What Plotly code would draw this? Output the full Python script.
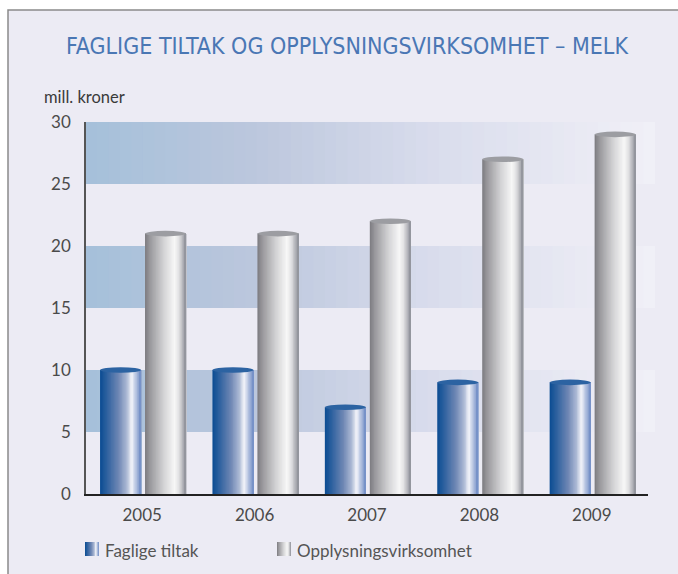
import plotly.graph_objects as go

# ---- data ----
years = ["2005", "2006", "2007", "2008", "2009"]
faglige_tiltak = [10, 10, 7, 9, 9]
opplysningsvirksomhet = [21, 21, 22, 27, 29]
series_names = ["Faglige tiltak", "Opplysningsvirksomhet"]
y_ticks = [0, 5, 10, 15, 20, 25, 30]
title_text = "FAGLIGE TILTAK OG OPPLYSNINGSVIRKSOMHET – MELK"
unit_text = "mill. kroner"

# ---- styling ----
W, H = 678, 574
ML, MR, MT, MB = 86, 30, 122, 80
PW, PH = W - ML - MR, H - MT - MB
BG = "#ECEBF4"
TXT = "#4A4A4A"
FONT = "Lato, 'Noto Sans', sans-serif"


def px2x(px):
    return (px - ML) / PW


def px2y(py):
    return (H - MB - py) / PH


def hex2rgb(h):
    h = h.lstrip("#")
    return tuple(int(h[i:i + 2], 16) for i in (0, 2, 4))


def grad(stops, t):
    for (t0, c0), (t1, c1) in zip(stops[:-1], stops[1:]):
        if t <= t1:
            f = 0 if t1 == t0 else (t - t0) / (t1 - t0)
            a, b = hex2rgb(c0), hex2rgb(c1)
            return "rgb(%d,%d,%d)" % tuple(round(a[k] + (b[k] - a[k]) * f) for k in range(3))
    return "rgb(%d,%d,%d)" % hex2rgb(stops[-1][1])


blue_stops = [(0, "#0A4C92"), (0.15, "#2A5F9E"), (0.45, "#6F87B4"), (0.66, "#AEBBD6"),
              (0.77, "#F6F7FB"), (0.85, "#C3CEE6"), (1.0, "#6E8BC4")]
gray_stops = [(0, "#7C7B80"), (0.12, "#99989C"), (0.45, "#D2D2D4"), (0.72, "#F7F7F7"),
              (0.83, "#E0E0E2"), (1.0, "#8C8E97")]
band_stops = [(0, "#A5C0DA"), (0.3, "#BCC7DD"), (0.6, "#D8DCEC"), (1.0, "#F1F0F7")]
cap_colors = ["#2C63A2", "#9C9DA2"]

bar_w = 0.365
offsets = [-0.375, 0.025]
N = 30
cap_h = 0.45

fig = go.Figure()
shapes = []

# outer frame
shapes.append(dict(type="rect", xref="paper", yref="paper",
                   x0=px2x(8), x1=px2x(W + 20), y0=px2y(H + 20), y1=px2y(10),
                   fillcolor=BG, line=dict(color="#8A8A8A", width=1.5), layer="below"))

# gradient bands
M = 50
for lo, hi in [(5, 10), (15, 20), (25, 30)]:
    for j in range(M):
        t = j / M
        shapes.append(dict(type="rect", xref="x domain", yref="y",
                           x0=t * 1.012, x1=1.012, y0=lo, y1=hi,
                           fillcolor=grad(band_stops, t + 0.5 / M),
                           line=dict(width=0), layer="below"))

# cylinder bars built from stripes
for s, (vals, stops, off) in enumerate(zip([faglige_tiltak, opplysningsvirksomhet],
                                          [blue_stops, gray_stops], offsets)):
    dw = bar_w / N
    for i in range(N):
        fig.add_trace(go.Bar(
            x=years, y=vals, offset=off + i * dw, width=bar_w - i * dw,
            marker=dict(color=grad(stops, (i + 0.5) / N), line=dict(width=0)),
            showlegend=False, hoverinfo="skip" if i else "x+y",
            name=series_names[s]))
    for k, v in enumerate(vals):
        shapes.append(dict(type="circle", xref="x", yref="y",
                           x0=k + off, x1=k + off + bar_w,
                           y0=v - cap_h / 2, y1=v + cap_h / 2,
                           fillcolor=cap_colors[s], line=dict(width=0), layer="above"))

# manual legend with gradient icons
annotations = []
legend_items = [(85, 104, blue_stops), (277, 296, gray_stops)]
for (ix, tx, stops), name in zip(legend_items, series_names):
    K = 14
    for j in range(K):
        shapes.append(dict(type="rect", xref="paper", yref="paper",
                           x0=px2x(ix + j * 14 / K), x1=px2x(ix + 14),
                           y0=px2y(556), y1=px2y(542),
                           fillcolor=grad(stops, (j + 0.5) / K), line=dict(width=0)))
    annotations.append(dict(text=name, xref="paper", yref="paper",
                            x=px2x(tx - 1), y=px2y(550), xanchor="left", yanchor="middle",
                            showarrow=False, font=dict(family=FONT, size=17, color="#555555")))

annotations.append(dict(text=unit_text, xref="paper", yref="paper",
                        x=px2x(42), y=px2y(97), xanchor="left", yanchor="middle",
                        showarrow=False, font=dict(family=FONT, size=16.5, color="#3A3A3A")))

fig.update_layout(
    width=W, height=H,
    margin=dict(l=ML, r=MR, t=MT, b=MB, pad=0),
    paper_bgcolor="white", plot_bgcolor="rgba(0,0,0,0)",
    barmode="overlay",
    showlegend=False,
    title=dict(text=title_text, x=347 / W, xanchor="center", y=1 - 46 / H, yanchor="middle",
               font=dict(family="'Liberation Sans Narrow', 'DejaVu Sans Condensed', sans-serif",
                         size=23, color="#4A77B4")),
    shapes=shapes,
    annotations=annotations,
    xaxis=dict(type="category", showline=True, linecolor="#222222", linewidth=1.5,
               ticks="", showgrid=False, tickfont=dict(family=FONT, size=17, color=TXT),
               ticklabelstandoff=5, zeroline=False),
    yaxis=dict(range=[0, 30], tickvals=y_ticks, showline=True, linecolor="#555555",
               linewidth=1.5, ticks="", showgrid=False, zeroline=False,
               tickfont=dict(family=FONT, size=17, color=TXT), ticklabelstandoff=10),
)

fig.write_html("out.html", config={"displayModeBar": False},
               post_script="document.body.style.margin='0';")
